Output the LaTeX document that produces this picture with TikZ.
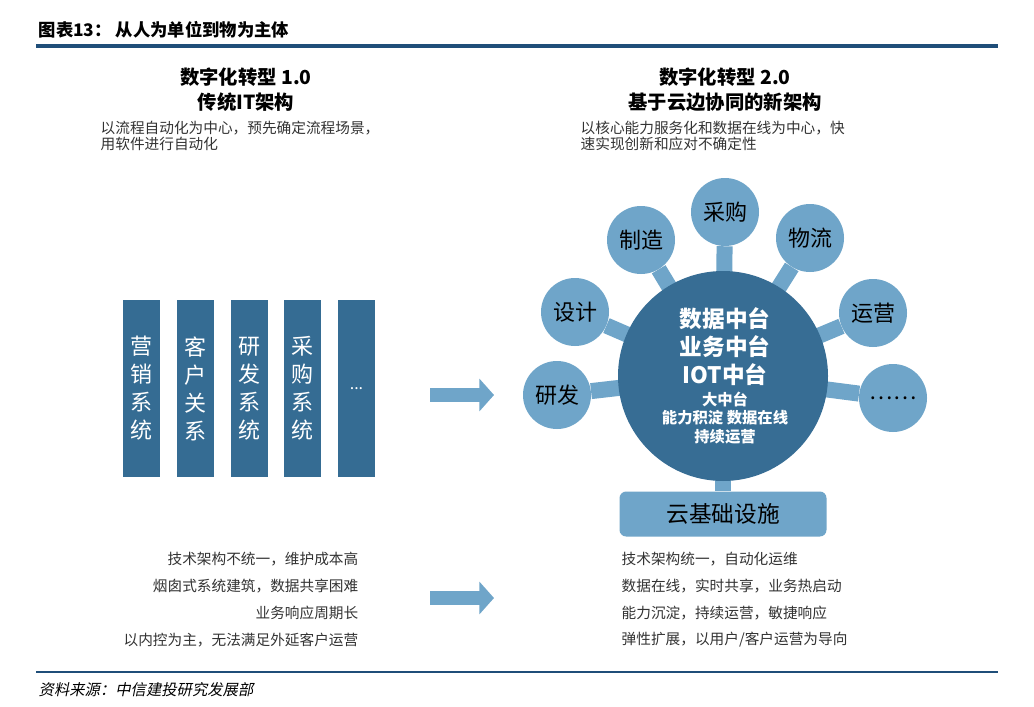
\documentclass[tikz,border=0pt]{standalone}
\usepackage{fontspec}
\setmainfont{Noto Sans CJK SC}
\newfontfamily\cjkit[FakeSlant=0.2]{Noto Sans CJK SC}
\usetikzlibrary{arrows.meta}
\definecolor{dk}{HTML}{376D94}
\definecolor{lt}{HTML}{6FA5C9}
\definecolor{col}{HTML}{356C93}
\definecolor{hl}{HTML}{1F4E79}
\definecolor{gr}{HTML}{333333}
\begin{document}
\begin{tikzpicture}[x=0.75pt,y=-0.75pt,
 sat/.style={circle,fill=lt,minimum size=68pt*0.75,inner sep=0pt,font=\fontsize{16.5}{18}\selectfont},
 colm/.style={fill=col,minimum width=37*0.75pt,minimum height=177*0.75pt,inner sep=0pt,text=white,font=\fontsize{16.5}{21}\selectfont,align=center},
 spoke/.style={lt,line width=12pt},
 bigar/.style={-{Triangle[length=11pt,width=24pt]},lt,line width=10pt},
 txt/.style={font=\fontsize{11}{12.5}\selectfont,text=gr}]
\useasboundingbox (0,0) rectangle (1034,706);
\fill[white] (0,0) rectangle (1034,706);
\node[anchor=west,font=\bfseries\fontsize{13}{15}\selectfont] (title) at (34,30) {图表13：\ 从人为单位到物为主体};
\draw[hl,line width=2.4pt] (36,46) -- (998,46);
\draw[hl,line width=1.5pt] (36,672) -- (998,672);
\node[anchor=west,font=\cjkit\fontsize{11.5}{13}\selectfont] (src) at (34,690) {资料来源：中信建投研究发展部};
% headings
\node[font=\bfseries\fontsize{14.5}{19}\selectfont,align=center] (h1) at (246,90) {数字化转型 1.0\\传统IT架构};
\node[font=\bfseries\fontsize{14.5}{19}\selectfont,align=center] (h2) at (725,90) {数字化转型 2.0\\基于云边协同的新架构};
\node[txt,anchor=north west,align=left] (s1) at (96,116) {以流程自动化为中心，预先确定流程场景，\\用软件进行自动化};
\node[txt,anchor=north west,align=left] (s2) at (576,116) {以核心能力服务化和数据在线为中心，快\\速实现创新和应对不确定性};
% columns
\node[colm] (c1) at (141.5,388.5) {营\\销\\系\\统};
\node[colm] (c2) at (195.5,388.5) {客\\户\\关\\系};
\node[colm] (c3) at (249.5,388.5) {研\\发\\系\\统};
\node[colm] (c4) at (302.5,388.5) {采\\购\\系\\统};
\node[colm,font=\fontsize{12}{13}\selectfont] (c5) at (356.5,388.5) {...};
% arrows
\coordinate (a1s) at (430,395); \coordinate (a1e) at (494,395);
\coordinate (a2s) at (430,598); \coordinate (a2e) at (494,598);
\draw[bigar] (a1s) -- (a1e);
\draw[bigar] (a2s) -- (a2e);
% hub
\node[sat] (cg) at (725,212) {采购};
\node[sat] (zz) at (641,240) {制造};
\node[sat] (wl) at (810,238) {物流};
\node[sat] (sj) at (575,312) {设计};
\node[sat] (yy) at (873,313) {运营};
\node[sat] (yf) at (557,395) {研发};
\node[sat] (more) at (893,398) {……};
\node[fill=lt,rounded corners=5pt,minimum width=207*0.75pt,minimum height=45*0.75pt,inner sep=0pt,font=\fontsize{17}{19}\selectfont] (base) at (723,514) {云基础设施};
\coordinate (hc) at (723,376);
\foreach \n in {cg,zz,wl,sj,yy,yf,more,base} \draw[spoke] (hc) -- (\n);
\node[circle,fill=dk,minimum size=210*0.75pt,inner sep=0pt,text=white,align=center] (hub) at (hc) {};
\node[text=white,align=center,font=\bfseries\fontsize{17}{21}\selectfont] (ht) at (725,347) {数据中台\\业务中台\\IOT中台};
\node[text=white,align=center,font=\bfseries\fontsize{11.5}{14}\selectfont] (hs) at (725,418) {大中台\\能力积淀 数据在线\\持续运营};
% bottom texts
\node[txt,anchor=east] (l1) at (363,559) {技术架构不统一，维护成本高};
\node[txt,anchor=east] (l2) at (363,586) {烟囱式系统建筑，数据共享困难};
\node[txt,anchor=east] (l3) at (363,613) {业务响应周期长};
\node[txt,anchor=east] (l4) at (363,640) {以内控为主，无法满足外延客户运营};
\node[txt,anchor=west] (r1) at (617,559) {技术架构统一，自动化运维};
\node[txt,anchor=west] (r2) at (617,586) {数据在线，实时共享，业务热启动};
\node[txt,anchor=west] (r3) at (617,613) {能力沉淀，持续运营，敏捷响应};
\node[txt,anchor=west] (r4) at (617,640) {弹性扩展，以用户/客户运营为导向};
\end{tikzpicture}
\end{document}
